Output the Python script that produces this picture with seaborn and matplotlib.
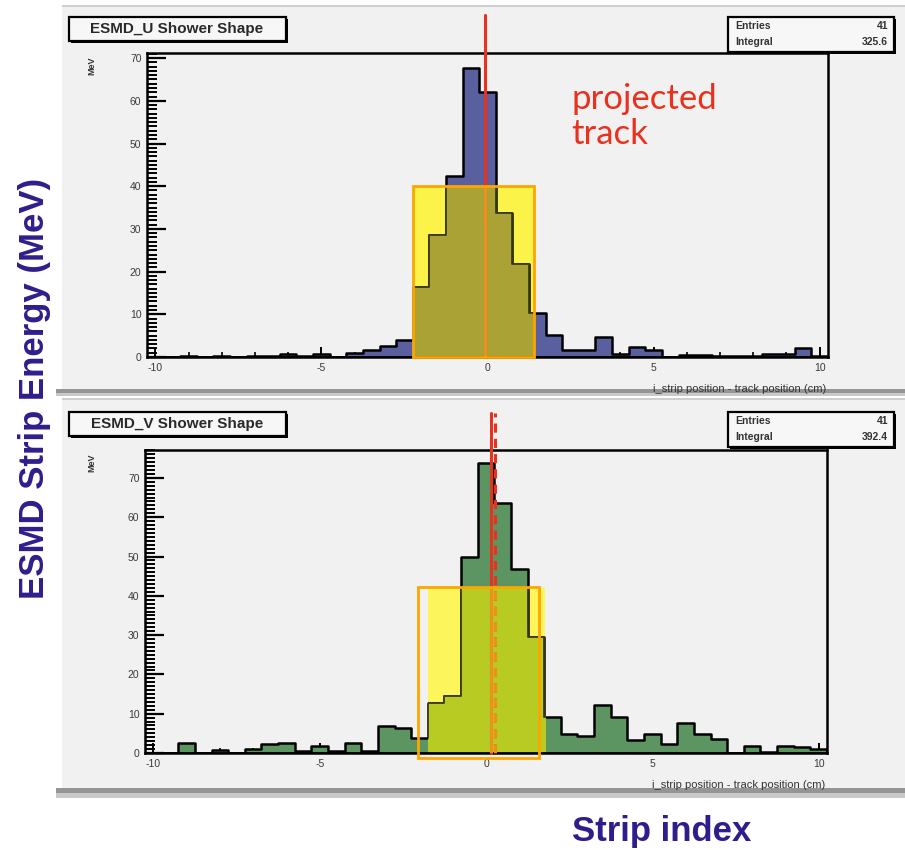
import numpy as np
import matplotlib
matplotlib.use("Agg")
import matplotlib.pyplot as plt
from matplotlib.patches import Rectangle
from matplotlib.ticker import MultipleLocator
import seaborn as sns

# ---- data -------------------------------------------------------------
strip_offset_cm = [-10.0, -9.5, -9.0, -8.5, -8.0, -7.5, -7.0, -6.5, -6.0, -5.5,
                   -5.0, -4.5, -4.0, -3.5, -3.0, -2.5, -2.0, -1.5, -1.0, -0.5,
                   0.0, 0.5, 1.0, 1.5, 2.0, 2.5, 3.0, 3.5, 4.0, 4.5,
                   5.0, 5.5, 6.0, 6.5, 7.0, 7.5, 8.0, 8.5, 9.0, 9.5, 10.0]

u_energy_mev = [0.0, 0.0, 0.3, 0.0, 0.3, 0.0, 0.3, 0.3, 0.6, 0.3,
                0.6, 0.0, 0.9, 1.6, 2.5, 4.0, 16.5, 28.5, 42.5, 67.6,
                62.0, 33.8, 21.8, 10.2, 5.1, 1.6, 1.6, 4.7, 0.8, 2.4,
                1.6, 0.0, 0.4, 0.4, 0.3, 0.2, 0.3, 0.6, 0.6, 2.0, 0.3]

v_energy_mev = [0.0, 0.0, 2.5, 0.0, 0.7, 0.0, 0.9, 2.2, 2.5, 0.4,
                1.7, 0.4, 2.5, 0.4, 6.8, 6.4, 3.9, 12.6, 14.4, 50.0,
                73.8, 63.7, 46.9, 29.5, 9.2, 4.9, 4.3, 12.1, 9.2, 3.4,
                4.9, 2.3, 7.7, 4.9, 3.6, 0.0, 1.7, 0.2, 1.9, 1.5, 1.0]

panel_titles = ["ESMD_U Shower Shape", "ESMD_V Shower Shape"]
stat_entries = ["41", "41"]
stat_integrals = ["325.6", "392.4"]
x_tick_values = [-10, -5, 0, 5, 10]
y_tick_values = [0, 10, 20, 30, 40, 50, 60, 70]

# ---- figure -----------------------------------------------------------
sns.set_theme(style="ticks")
plt.rcParams["axes.unicode_minus"] = False
plt.rcParams["font.family"] = ["Liberation Sans", "DejaVu Sans"]

W, H = 905, 850
fig = plt.figure(figsize=(W / 100, H / 100), dpi=100)
fig.patch.set_facecolor("white")


def fx(px):
    return px / W


def fy(py):
    return 1 - py / H


def frect(x0, y0, x1, y1, **kw):
    r = Rectangle((fx(x0), fy(y1)), fx(x1) - fx(x0), fy(y0) - fy(y1),
                  transform=fig.transFigure, **kw)
    fig.add_artist(r)
    return r


def shadow_box(x0, y0, x1, y1):
    frect(x0 + 2, y0 + 2, x1 + 2, y1 + 2, facecolor="black", edgecolor="none", zorder=5)
    frect(x0, y0, x1, y1, facecolor="#f7f7f7", edgecolor="black", linewidth=1.6, zorder=6)


CANVAS = "#f1f1f1"
TRACK_RED = "#e8311f"
TRACK_IN_BOX = "#f0901c"
bin_width = 0.5
edges = [c - bin_width / 2 for c in strip_offset_cm] + [strip_offset_cm[-1] + bin_width / 2]

panels = [
    dict(values=u_energy_mev, color="#5a5f9f", overlap="#aaa235", yellow="#fbf34a",
         canvas=(62, 6, 905, 390), axes=(147, 53, 828, 357), ymax=71.2, title_y=17,
         box_fill=(-2.25, 0, 1.41, 40.0), box_edge=(-2.25, 0, 1.41, 40.0),
         track=[(-0.08, "-")], track_top=80.0, band=(389, 396)),
    dict(values=v_energy_mev, color="#5c9562", overlap="#b8cb22", yellow="#fdf55c",
         canvas=(62, 399, 905, 789), axes=(145, 450, 827, 753), ymax=77.1, title_y=412,
         box_fill=(-1.74, 0, 1.78, 41.9), box_edge=(-2.03, -1.3, 1.60, 42.3),
         track=[(0.15, "-"), (0.28, "--")], track_top=86.5, band=(788, 798)),
]

for i, p in enumerate(panels):
    cx0, cy0, cx1, cy1 = p["canvas"]
    frect(cx0, cy0, cx1, cy1, facecolor=CANVAS, edgecolor="none", zorder=0)
    frect(cx0, cy0 - 1, cx1, cy0 + 1, facecolor="#cfcfcf", edgecolor="none", zorder=0)
    b0, b1 = p["band"]
    frect(cx0 - 6, b0, cx1, (b0 + b1) / 2, facecolor="#959595", edgecolor="none", zorder=0)
    frect(cx0 - 6, (b0 + b1) / 2, cx1, b1, facecolor="#c9c9c9", edgecolor="none", zorder=0)

    ax0, ay0, ax1, ay1 = p["axes"]
    ax = fig.add_axes([fx(ax0), fy(ay1), fx(ax1) - fx(ax0), fy(ay0) - fy(ay1)])
    ax.set_facecolor(CANVAS)

    # highlighted strip window (underneath the histogram)
    bx0, by0, bx1, by1 = p["box_fill"]
    ax.add_patch(Rectangle((bx0, by0), bx1 - bx0, by1 - by0, facecolor=p["yellow"],
                           edgecolor="none", zorder=1.5))

    sns.histplot(x=strip_offset_cm, weights=p["values"], bins=edges, element="step",
                 fill=True, color=p["color"], alpha=1.0, edgecolor="black",
                 linewidth=1.8, ax=ax, zorder=2)

    # same histogram tinted where it lies inside the window
    n_before = len(ax.collections)
    sns.histplot(x=strip_offset_cm, weights=p["values"], bins=edges, element="step",
                 fill=True, color=p["overlap"], alpha=1.0, edgecolor="#3b3b1c",
                 linewidth=1.3, ax=ax, zorder=2.5)
    clip = Rectangle((bx0, by0), bx1 - bx0, by1 - by0, transform=ax.transData)
    for coll in ax.collections[n_before:]:
        coll.set_clip_path(clip)

    # projected track position
    for xt, ls in p["track"]:
        dash_kw = dict(dashes=(3, 2)) if ls == "--" else {}
        ax.plot([xt, xt], [0, p["track_top"]], color=TRACK_RED, linewidth=2.2,
                linestyle=ls, clip_on=False, zorder=3, **dash_kw)
        seg = ax.plot([xt, xt], [0, p["track_top"]], color=TRACK_IN_BOX, linewidth=2.2,
                      linestyle=ls, zorder=3.5, **dash_kw)[0]
        seg.set_clip_path(Rectangle((bx0, by0), bx1 - bx0, by1 - by0,
                                    transform=ax.transData))

    ex0, ey0, ex1, ey1 = p["box_edge"]
    ax.add_patch(Rectangle((ex0, ey0), ex1 - ex0, ey1 - ey0, facecolor="none",
                           edgecolor="#ffa500", linewidth=2.0, clip_on=False, zorder=5))

    ax.set_xlim(edges[0], edges[-1])
    ax.set_ylim(0, p["ymax"])
    ax.set_xlabel("")
    ax.set_ylabel("")
    ax.set_xticks(x_tick_values)
    ax.set_xticklabels([str(v) for v in x_tick_values])
    ax.set_yticks(y_tick_values)
    ax.set_yticklabels([str(v) for v in y_tick_values])
    ax.xaxis.set_minor_locator(MultipleLocator(1))
    ax.yaxis.set_minor_locator(MultipleLocator(1))
    ax.tick_params(axis="y", which="major", direction="in", length=14, width=1.6,
                   pad=4, labelsize=7.5, labelcolor="#3a3a3a", color="black")
    ax.tick_params(axis="y", which="minor", direction="in", length=7, width=1.4,
                   color="black")
    ax.tick_params(axis="x", which="major", direction="in", length=7, width=1.4,
                   pad=4, labelsize=7.5, labelcolor="#3a3a3a", color="black")
    ax.tick_params(axis="x", which="minor", direction="in", length=3.5, width=1.2,
                   color="black")
    for s in ax.spines.values():
        s.set_visible(True)
        s.set_color("black")
        s.set_linewidth(1.8)
    ax.set_zorder(1)

    # pad annotations
    ty = p["title_y"]
    shadow_box(69, ty, 286, ty + 24)
    fig.text(fx(177), fy(ty + 12), panel_titles[i], ha="center", va="center",
             fontsize=11, fontweight="bold", color="#2a2a2a", zorder=7)
    shadow_box(728, ty, 894, ty + 35)
    fig.text(fx(735), fy(ty + 9), "Entries", ha="left", va="center", fontsize=7.5,
             fontweight="bold", color="#333333", zorder=7)
    fig.text(fx(888), fy(ty + 9), stat_entries[i], ha="right", va="center",
             fontsize=7.5, fontweight="bold", color="#333333", zorder=7)
    fig.text(fx(735), fy(ty + 25), "Integral", ha="left", va="center", fontsize=7.5,
             fontweight="bold", color="#333333", zorder=7)
    fig.text(fx(888), fy(ty + 25), stat_integrals[i], ha="right", va="center",
             fontsize=7.5, fontweight="bold", color="#333333", zorder=7)
    fig.text(fx(92), fy(ay0 + 13), "MeV", rotation=90, ha="center", va="center",
             fontsize=6.5, fontweight="bold", color="#333333")
    fig.text(fx(ax1 - 2), fy(ay1 + 32), "i_strip position - track position (cm)",
             ha="right", va="center", fontsize=8, color="#333333")

fig.text(fx(571), fy(83), "projected\ntrack", ha="left", va="top", fontsize=25,
         color=TRACK_RED, family=["Lato", "DejaVu Sans"], linespacing=1.1)

fig.text(fx(35), fy(388), "ESMD Strip Energy (MeV)", rotation=90, ha="center",
         va="center", fontsize=25, fontweight="bold", color="#2e1d8c")
fig.text(fx(662), fy(831), "Strip index", ha="center", va="center", fontsize=25,
         fontweight="bold", color="#2e1d8c")

fig.savefig("out.png", dpi=100, facecolor="white")
